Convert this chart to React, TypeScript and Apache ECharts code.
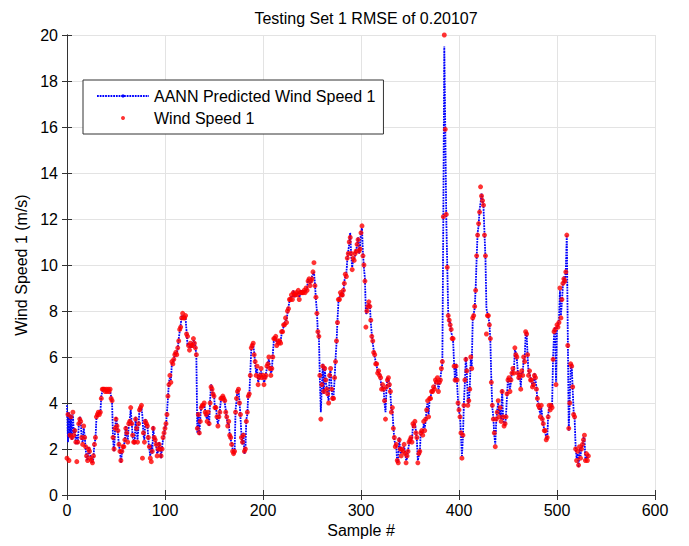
import React, { useEffect, useRef } from "react";
import * as echarts from "echarts";

const TITLE = "Testing Set 1 RMSE of 0.20107";
const X_NAME = "Sample #";
const Y_NAME = "Wind Speed 1 (m/s)";
const PRED_NAME = "AANN Predicted Wind Speed 1";
const ACT_NAME = "Wind Speed 1";

// AANN predicted wind speed (blue dotted line), samples 0..532
const predicted: number[] = [
  3.9, 2.3, 3.6, 2.5, 3.5, 2.4, 3.5, 2.7, 2.9, 2.2,
  2.6, 2.2, 3.0, 3.4, 3.3, 2.4, 2.3, 2.9, 2.6, 2.0,
  1.6, 1.5, 2.1, 1.8, 1.7, 1.5, 1.4, 1.6, 2.3, 2.4,
  3.3, 3.5, 3.5, 3.6, 3.55, 4.3, 4.5, 4.7, 4.6, 4.6,
  4.5, 4.6, 4.5, 4.6, 4.5, 4.3, 4.0, 2.4, 1.9, 2.8,
  3.4, 3.1, 2.7, 2.1, 2.0, 1.4, 1.8, 2.0, 2.2, 2.3,
  3.0, 2.6, 2.4, 3.0, 3.3, 3.7, 3.2, 2.5, 2.4, 2.2,
  3.4, 2.8, 2.4, 3.0, 3.8, 3.7, 3.8, 3.4, 2.6, 2.4,
  3.3, 3.0, 3.1, 2.4, 2.0, 1.7, 2.2, 1.8, 3.0, 2.4,
  2.5, 2.1, 1.8, 1.9, 2.3, 2.1, 1.6, 2.1, 2.4, 2.6,
  3.0, 3.0, 3.6, 4.2, 4.9, 5.1, 5.0, 5.7, 5.8, 5.8,
  6.2, 6.1, 6.2, 6.3, 6.8, 7.1, 7.4, 7.8, 7.8, 7.7,
  7.8, 7.7, 7.1, 6.5, 6.6, 6.4, 6.5, 6.4, 6.6, 6.7,
  6.7, 6.5, 6.0, 2.7, 3.6, 2.6, 3.3, 3.9, 3.8, 4.0,
  3.9, 3.7, 3.4, 3.3, 3.5, 3.0, 4.1, 4.8, 4.7, 4.3,
  4.4, 3.7, 3.9, 3.3, 3.1, 3.3, 3.7, 4.1, 4.3, 4.2,
  4.3, 4.0, 3.7, 3.3, 3.1, 3.1, 2.7, 2.4, 2.3, 2.0,
  1.8, 1.8, 3.7, 4.1, 4.6, 4.5, 4.1, 3.4, 2.6, 2.2,
  2.7, 1.8, 1.9, 3.3, 3.5, 4.4, 4.3, 5.3, 6.3, 6.6,
  6.5, 6.2, 5.7, 5.3, 5.5, 4.9, 5.0, 5.3, 5.4, 5.2,
  5.1, 4.9, 5.0, 5.3, 5.5, 5.8, 5.9, 5.6, 5.3, 5.4,
  6.1, 6.7, 6.9, 6.8, 6.6, 6.6, 6.7, 6.6, 6.7, 7.0,
  7.2, 7.3, 7.5, 7.6, 7.6, 7.9, 8.2, 8.4, 8.6, 8.6,
  8.6, 8.9, 8.6, 8.8, 8.7, 8.8, 8.8, 8.6, 8.7, 8.9,
  8.7, 8.9, 8.8, 8.9, 8.9, 9.0, 9.4, 9.3, 9.2, 9.2,
  9.5, 9.6, 9.7, 9.2, 8.5, 8.0, 7.0, 7.0, 5.1, 3.6,
  4.7, 5.7, 4.4, 5.6, 4.9, 4.7, 4.3, 4.1, 5.3, 5.4,
  4.7, 4.1, 4.3, 5.0, 5.9, 6.6, 7.6, 8.4, 8.6, 8.7,
  8.8, 8.6, 8.8, 9.3, 9.5, 9.6, 10.2, 10.6, 10.9, 11.4,
  10.4, 9.9, 10.2, 10.3, 10.4, 10.7, 10.8, 11.2, 10.5, 10.8,
  11.5, 11.6, 10.5, 9.9, 9.4, 7.9, 7.9, 8.3, 8.3, 8.3,
  7.5, 7.0, 6.6, 6.3, 6.0, 5.8, 5.6, 5.4, 5.3, 5.3,
  5.0, 4.7, 4.7, 4.7, 4.0, 3.6, 4.6, 5.1, 5.0, 4.9,
  4.4, 3.7, 3.7, 3.0, 2.4, 2.2, 2.1, 1.4, 1.5, 2.5,
  1.95, 1.8, 1.9, 2.0, 2.1, 1.9, 1.5, 1.6, 1.95, 2.2,
  2.5, 2.4, 2.4, 3.0, 3.1, 3.1, 2.8, 2.4, 1.5, 1.7,
  1.8, 2.8, 2.7, 2.7, 3.1, 2.9, 3.2, 3.8, 4.0, 3.5,
  4.1, 4.3, 4.4, 4.6, 4.6, 4.7, 4.9, 5.0, 5.0, 4.6,
  4.8, 5.1, 5.4, 5.7, 12.1, 19.5, 15.9, 12.1, 10.0, 7.9,
  7.5, 7.5, 7.1, 6.9, 6.7, 5.7, 4.9, 5.7, 4.9, 4.1,
  3.6, 3.5, 2.6, 1.7, 2.5, 4.0, 4.9, 6.0, 5.3, 4.0,
  4.0, 4.7, 5.9, 5.6, 7.6, 7.9, 8.1, 9.0, 10.3, 11.4,
  11.7, 12.4, 12.7, 13.1, 12.9, 12.5, 11.4, 10.3, 8.1, 7.9,
  7.7, 7.5, 6.7, 5.0, 3.8, 3.4, 2.6, 2.2, 3.2, 3.7,
  4.0, 3.5, 3.7, 3.3, 4.6, 3.3, 3.1, 3.0, 3.5, 4.3,
  5.1, 5.0, 4.6, 4.9, 5.4, 5.4, 5.4, 6.3, 6.2, 5.9,
  5.4, 5.0, 5.3, 4.7, 5.3, 5.3, 5.9, 5.9, 7.0, 7.1,
  6.0, 5.3, 5.3, 5.1, 4.9, 4.8, 4.7, 5.3, 5.0, 4.7,
  4.1, 4.0, 3.7, 3.5, 3.8, 3.4, 3.0, 2.9, 2.7, 2.5,
  2.4, 3.5, 3.8, 3.8, 3.8, 3.9, 6.0, 7.0, 7.3, 4.9,
  7.3, 7.4, 7.6, 8.9, 7.8, 8.4, 9.1, 9.5, 9.2, 9.8,
  11.3, 7.0, 2.8, 4.1, 5.6, 5.7, 4.6, 3.6, 3.3, 2.1,
  1.6, 1.8, 1.2, 2.0, 1.7, 2.1, 2.1, 2.5, 2.5, 1.5,
  1.7, 1.6, 1.8,
];

// Measured wind speed (red dots), samples 0..532
const actual: number[] = [
  1.6, 3.5, 1.5, 2.6, 3.4, 2.5, 3.6, 2.6, 2.8, 2.3,
  1.45, 2.3, 3.1, 3.3, 3.2, 2.5, 2.2, 3.0, 2.5, 2.1,
  1.7, 1.5, 2.0, 1.9, 1.6, 1.5, 1.4, 1.7, 2.2, 2.5,
  3.4, 3.5, 3.6, 3.5, 3.6, 4.2, 4.6, 4.6, 4.6, 4.5,
  4.6, 4.5, 4.6, 4.5, 4.6, 4.2, 4.1, 2.5, 2.0, 2.9,
  3.3, 3.0, 2.8, 2.2, 1.9, 1.5, 1.9, 2.1, 2.1, 2.4,
  2.9, 2.7, 2.3, 3.1, 3.2, 3.8, 3.1, 2.6, 2.3, 2.3,
  3.3, 2.9, 2.3, 3.1, 3.7, 3.8, 3.9, 1.6, 2.7, 2.3,
  3.2, 3.1, 3.0, 2.5, 2.1, 1.6, 1.45, 1.9, 2.9, 2.5,
  2.4, 2.2, 1.7, 2.0, 2.2, 2.0, 1.7, 2.0, 2.5, 2.7,
  2.9, 3.1, 3.5, 4.3, 4.8, 5.2, 4.9, 5.8, 5.7, 5.9,
  6.1, 6.2, 6.1, 6.4, 6.7, 7.2, 7.3, 7.7, 7.9, 7.7,
  7.7, 7.8, 7.0, 6.9, 6.5, 6.3, 6.6, 6.5, 6.5, 6.8,
  6.6, 6.4, 6.1, 2.9, 3.5, 2.7, 3.2, 3.8, 3.9, 3.9,
  4.0, 3.6, 3.5, 3.2, 3.6, 3.1, 4.0, 4.7, 4.6, 4.4,
  4.3, 3.8, 3.8, 3.4, 3.0, 3.4, 3.6, 4.2, 4.2, 4.3,
  4.2, 4.1, 3.6, 3.4, 3.0, 3.2, 2.6, 2.5, 2.2, 1.9,
  1.8, 1.9, 3.6, 4.2, 4.5, 4.6, 4.0, 3.5, 2.5, 2.3,
  2.6, 1.9, 2.0, 3.2, 3.6, 4.3, 4.4, 5.2, 6.4, 6.5,
  6.6, 6.1, 5.8, 5.2, 5.6, 4.8, 5.1, 5.2, 5.5, 5.1,
  5.2, 4.8, 5.1, 5.2, 5.6, 5.7, 6.0, 5.5, 5.2, 5.5,
  6.0, 6.8, 6.8, 6.9, 6.5, 6.7, 6.6, 6.7, 6.6, 7.1,
  7.1, 7.4, 7.4, 7.7, 7.5, 8.0, 8.1, 8.5, 8.5, 8.7,
  8.5, 8.8, 8.7, 8.7, 8.8, 8.7, 8.9, 8.5, 8.8, 8.8,
  8.8, 8.8, 8.9, 8.8, 9.0, 8.9, 9.3, 9.4, 9.1, 9.3,
  9.4, 9.7, 10.1, 9.1, 8.6, 7.9, 7.1, 6.9, 5.2, 3.3,
  4.8, 5.6, 4.5, 5.5, 5.0, 4.6, 4.4, 4.0, 5.2, 5.5,
  4.6, 4.2, 4.2, 5.1, 5.8, 6.7, 7.5, 8.5, 8.5, 8.8,
  8.7, 8.7, 8.9, 9.2, 9.6, 9.5, 10.3, 10.5, 11.0, 11.2,
  10.5, 9.8, 10.3, 10.2, 10.5, 10.6, 10.9, 11.1, 10.6, 10.7,
  11.4, 11.7, 10.4, 10.0, 9.3, 7.3, 8.0, 8.2, 8.4, 8.2,
  7.6, 6.9, 6.7, 6.2, 6.1, 5.7, 5.7, 5.3, 5.4, 5.2,
  5.1, 4.6, 4.8, 4.6, 4.1, 3.3, 4.7, 5.0, 5.1, 4.8,
  4.5, 3.6, 3.8, 2.9, 2.5, 2.1, 2.2, 1.5, 1.4, 2.4,
  2.0, 1.7, 2.0, 1.9, 2.2, 1.8, 1.4, 1.7, 1.9, 2.3,
  2.4, 2.5, 2.3, 3.1, 3.0, 3.2, 2.7, 2.5, 1.4, 1.8,
  1.9, 2.7, 2.8, 2.6, 3.2, 2.8, 3.3, 3.7, 4.1, 3.4,
  4.2, 4.2, 4.5, 4.5, 4.7, 4.6, 5.0, 4.9, 5.1, 4.5,
  4.9, 5.0, 5.5, 5.8, 12.1, 20.0, 15.9, 12.2, 9.9, 7.8,
  7.6, 7.4, 7.2, 6.8, 6.8, 5.6, 5.0, 5.6, 5.0, 4.0,
  3.7, 3.4, 2.7, 1.6, 2.6, 3.9, 5.0, 5.9, 5.4, 3.9,
  4.1, 4.6, 6.0, 5.5, 7.7, 7.8, 8.2, 8.9, 10.4, 11.3,
  11.8, 12.3, 13.4, 13.0, 12.8, 12.6, 11.3, 10.4, 7.0, 7.8,
  7.8, 7.4, 6.8, 4.9, 3.9, 3.3, 2.7, 2.1, 3.3, 3.6,
  4.1, 3.4, 3.8, 3.2, 4.5, 3.4, 3.0, 3.1, 3.4, 4.4,
  5.0, 5.1, 4.5, 5.0, 5.3, 5.5, 5.3, 6.4, 6.1, 6.0,
  5.3, 5.1, 5.2, 4.6, 5.4, 5.2, 6.0, 5.8, 7.1, 7.0,
  6.1, 5.2, 5.4, 5.0, 5.0, 4.7, 4.8, 5.2, 5.1, 4.6,
  4.2, 3.9, 3.8, 3.4, 3.9, 3.3, 3.1, 2.8, 2.8, 2.4,
  2.5, 3.4, 3.9, 3.7, 3.9, 3.8, 5.9, 7.1, 7.2, 4.8,
  7.4, 7.3, 7.5, 9.0, 7.7, 8.5, 9.2, 9.4, 9.3, 9.7,
  11.3, 6.5, 2.9, 4.0, 5.7, 5.6, 4.7, 3.5, 3.4, 2.0,
  1.5, 1.9, 1.3, 2.1, 1.6, 2.0, 2.2, 2.4, 2.6, 1.5,
  1.8, 1.5, 1.7,
];

const X_MIN = 0, X_MAX = 600, X_STEP = 100;
const Y_MIN = 0, Y_MAX = 20, Y_STEP = 2;

const FONT = "'Liberation Sans', Arial, Helvetica, sans-serif";

export default function App() {
  const ref = useRef<HTMLDivElement>(null);
  useEffect(() => {
    if (!ref.current) return;
    const chart = echarts.init(ref.current, null, { renderer: "svg" });
    const predData = predicted.map((v, i) => [i, v]);
    const actData = actual.map((v, i) => [i, v]);
    const axisLine = { show: true, lineStyle: { color: "#333", width: 1 } };
    const tick = { show: true, inside: true, length: 5, lineStyle: { color: "#333" } };
    chart.setOption({
      animation: false,
      backgroundColor: "#fff",
      textStyle: { fontFamily: FONT },
      title: {
        text: TITLE,
        left: 361,
        textAlign: "center",
        top: 5,
        textStyle: { fontFamily: FONT, fontSize: 16, fontWeight: "normal", color: "#000" },
      },
      grid: { left: 67, right: 34, top: 35, bottom: 51, containLabel: false, show: false },
      legend: {
        orient: "vertical",
        left: 83,
        top: 80,
        padding: [8, 8, 8, 13],
        itemGap: 6,
        itemWidth: 52,
        itemHeight: 4,
        backgroundColor: "#fff",
        borderColor: "#333",
        borderWidth: 1,
        textStyle: { fontFamily: FONT, fontSize: 16, color: "#000" },
        data: [
          { name: PRED_NAME },
          { name: ACT_NAME, icon: "circle" },
        ],
      },
      xAxis: [
        {
          type: "value",
          min: X_MIN,
          max: X_MAX,
          interval: X_STEP,
          name: X_NAME,
          nameLocation: "middle",
          nameGap: 23,
          nameTextStyle: { fontFamily: FONT, fontSize: 16, color: "#000" },
          axisLine,
          axisTick: tick,
          axisLabel: { fontFamily: FONT, fontSize: 16, color: "#000", margin: 7 },
          splitLine: { show: true, lineStyle: { color: "#e3e3e3", width: 1 } },
        },
        {
          type: "value",
          position: "top",
          min: X_MIN,
          max: X_MAX,
          interval: X_STEP,
          axisLine,
          axisTick: tick,
          axisLabel: { show: false },
          splitLine: { show: false },
        },
      ],
      yAxis: [
        {
          type: "value",
          min: Y_MIN,
          max: Y_MAX,
          interval: Y_STEP,
          name: Y_NAME,
          nameLocation: "middle",
          nameGap: 28,
          nameTextStyle: { fontFamily: FONT, fontSize: 16, color: "#000" },
          axisLine,
          axisTick: tick,
          axisLabel: { fontFamily: FONT, fontSize: 16, color: "#000", margin: 9 },
          splitLine: { show: true, lineStyle: { color: "#e3e3e3", width: 1 } },
        },
        {
          type: "value",
          position: "right",
          min: Y_MIN,
          max: Y_MAX,
          interval: Y_STEP,
          axisLine,
          axisTick: tick,
          axisLabel: { show: false },
          splitLine: { show: false },
        },
      ],
      series: [
        {
          name: PRED_NAME,
          type: "line",
          data: predData,
          showSymbol: false,
          symbol: "none",
          color: "#0000ff",
          lineStyle: { color: "#0000ff", width: 1.8, type: [1.8, 0.9] },
          z: 2,
        },
        {
          name: ACT_NAME,
          type: "scatter",
          data: actData,
          symbol: "circle",
          symbolSize: 5,
          itemStyle: { color: "#ff0000" },
          z: 3,
        },
      ],
    });
    return () => chart.dispose();
  }, []);
  return (
    <div
      ref={ref}
      style={{ position: "fixed", left: 0, top: 0, width: 689, height: 546 }}
    />
  );
}
